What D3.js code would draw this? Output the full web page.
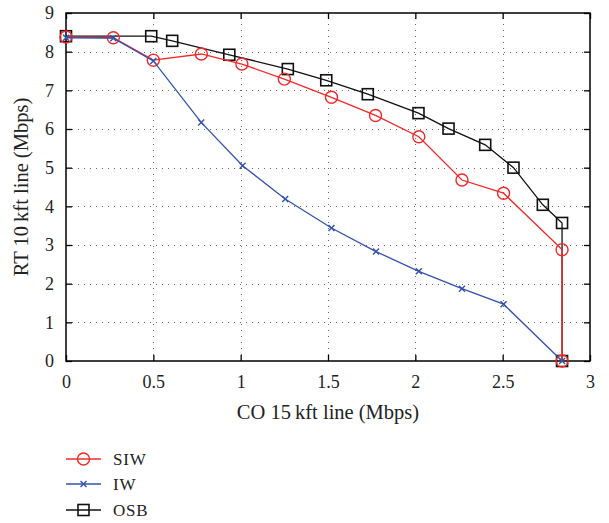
<!DOCTYPE html>
<html>
<head>
<meta charset="utf-8">
<script src="https://cdn.jsdelivr.net/npm/d3@7"></script>
<style>
body { margin: 0; background: #fff; }
text { font-family: "Liberation Serif", "DejaVu Serif", serif; fill: #222; }
</style>
</head>
<body>
<div id="chart"></div>
<script>
// values
var siwX = [0, 0.271, 0.5, 0.775, 1.007, 1.25, 1.52, 1.772, 2.02, 2.267, 2.505, 2.84, 2.84];
var siwY = [8.38, 8.36, 7.78, 7.94, 7.68, 7.29, 6.82, 6.35, 5.80, 4.68, 4.34, 2.88, 0];
var iwX = [0, 0.271, 0.5, 0.774, 1.011, 1.255, 1.52, 1.775, 2.02, 2.267, 2.505, 2.84];
var iwY = [8.36, 8.35, 7.76, 6.17, 5.05, 4.19, 3.44, 2.83, 2.32, 1.87, 1.47, 0];
var osbX = [0, 0.488, 0.608, 0.935, 1.27, 1.49, 1.728, 2.018, 2.19, 2.40, 2.562, 2.73, 2.84, 2.84];
var osbY = [8.40, 8.40, 8.28, 7.92, 7.55, 7.26, 6.90, 6.41, 6.01, 5.59, 5.00, 4.04, 3.57, 0];
var xTicks = [0, 0.5, 1, 1.5, 2, 2.5, 3];
var yTicks = [0, 1, 2, 3, 4, 5, 6, 7, 8, 9];
var seriesNames = ["SIW", "IW", "OSB"];

var W = 609, H = 523;
var plotLeft = 66, plotRight = 590, plotTop = 13, plotBottom = 361;

var svg = d3.select("#chart").append("svg").attr("width", W).attr("height", H);

var x = d3.scaleLinear().domain([0, 3]).range([plotLeft, plotRight]);
var y = d3.scaleLinear().domain([0, 9]).range([plotBottom, plotTop]);

// grid
var grid = svg.append("g").attr("stroke", "#666").attr("stroke-width", 1)
	.attr("stroke-dasharray", "1,5");
grid.selectAll("line.gx").data(xTicks.slice(1, -1)).enter().append("line")
	.attr("x1", function(d) { return Math.round(x(d)) + 0.5; })
	.attr("x2", function(d) { return Math.round(x(d)) + 0.5; })
	.attr("y1", plotBottom).attr("y2", plotTop);
grid.selectAll("line.gy").data(yTicks.slice(1, -1)).enter().append("line")
	.attr("y1", function(d) { return Math.round(y(d)) + 0.5; })
	.attr("y2", function(d) { return Math.round(y(d)) + 0.5; })
	.attr("x1", plotLeft).attr("x2", plotRight);

// axes with inward ticks on all four sides
function styleAxis(g) {
	g.select(".domain").remove();
	g.selectAll("line").attr("stroke", "#000").attr("stroke-width", 1.3);
	g.selectAll("text").attr("font-size", 18).attr("fill", "#222");
}
svg.append("g").attr("transform", "translate(0," + plotBottom + ")")
	.call(d3.axisBottom(x).tickValues(xTicks).tickSize(-6).tickPadding(14).tickFormat(d3.format("")))
	.call(styleAxis);
svg.append("g").attr("transform", "translate(0," + plotTop + ")")
	.call(d3.axisTop(x).tickValues(xTicks).tickSize(-6).tickFormat(""))
	.call(styleAxis);
svg.append("g").attr("transform", "translate(" + plotLeft + ",0)")
	.call(d3.axisLeft(y).tickValues(yTicks).tickSize(-6).tickPadding(12))
	.call(styleAxis);
svg.append("g").attr("transform", "translate(" + plotRight + ",0)")
	.call(d3.axisRight(y).tickValues(yTicks).tickSize(-6).tickFormat(""))
	.call(styleAxis);

svg.append("rect").attr("x", plotLeft).attr("y", plotTop)
	.attr("width", plotRight - plotLeft).attr("height", plotBottom - plotTop)
	.attr("fill", "none").attr("stroke", "#000").attr("stroke-width", 1.5);

// labels
svg.append("text").attr("x", (plotLeft + plotRight) / 2).attr("y", 419)
	.attr("text-anchor", "middle").attr("font-size", 20.5)
	.text("CO 15\u2009kft line (Mbps)");
svg.append("text").attr("transform", "translate(28," + ((plotTop + plotBottom) / 2) + ") rotate(-90)")
	.attr("text-anchor", "middle").attr("font-size", 20.5)
	.text("RT 10\u2009kft line (Mbps)");

var line = d3.line().x(function(d) { return x(d[0]); }).y(function(d) { return y(d[1]); });

function zip(xs, ys) {
	return xs.map(function(v, i) { return [v, ys[i]]; });
}

var colors = { SIW: "#f42828", IW: "#3352ae", OSB: "#111" };

function drawMarker(g, name, cx, cy) {
	if (name == "SIW") {
		g.append("circle").attr("cx", cx).attr("cy", cy).attr("r", 6)
			.attr("fill", "none").attr("stroke", colors.SIW).attr("stroke-width", 1.4);
	} else if (name == "IW") {
		var s = 3;
		g.append("path").attr("d", "M" + (cx - s) + "," + (cy - s) + "L" + (cx + s) + "," + (cy + s) +
			"M" + (cx - s) + "," + (cy + s) + "L" + (cx + s) + "," + (cy - s))
			.attr("stroke", colors.IW).attr("stroke-width", 1.4);
	} else {
		g.append("rect").attr("x", cx - 5.5).attr("y", cy - 5.5).attr("width", 11).attr("height", 11)
			.attr("fill", "none").attr("stroke", colors.OSB).attr("stroke-width", 1.6);
	}
}

var data = { SIW: zip(siwX, siwY), IW: zip(iwX, iwY), OSB: zip(osbX, osbY) };
var order = ["OSB", "SIW", "IW"];
order.forEach(function(name) {
	var g = svg.append("g");
	g.append("path").datum(data[name]).attr("d", line)
		.attr("fill", "none").attr("stroke", colors[name]).attr("stroke-width", 1.3);
	data[name].forEach(function(p) {
		drawMarker(g, name, x(p[0]), y(p[1]));
	});
});

// legend
var legendY = [459, 484, 510];
seriesNames.forEach(function(name, i) {
	var g = svg.append("g");
	g.append("line").attr("x1", 66).attr("x2", 101).attr("y1", legendY[i]).attr("y2", legendY[i])
		.attr("stroke", colors[name]).attr("stroke-width", 1.3);
	drawMarker(g, name, 83.5, legendY[i]);
	g.append("text").attr("x", 113).attr("y", legendY[i] + 6).attr("font-size", 17)
		.attr("letter-spacing", 0.8).text(name);
});
</script>
</body>
</html>
